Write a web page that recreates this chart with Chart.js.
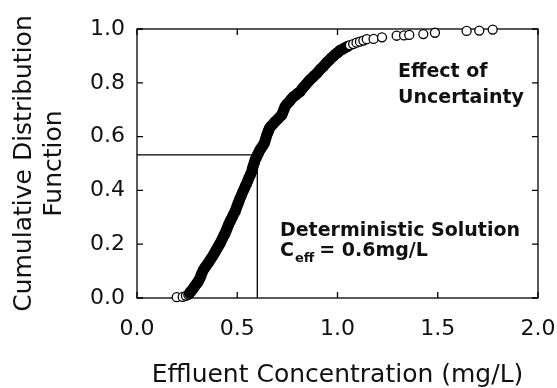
<!DOCTYPE html>
<html>
<head>
<meta charset="utf-8">
<script src="https://cdn.jsdelivr.net/npm/chart.js@4.4.1/dist/chart.umd.min.js"></script>
<style>
  html, body { margin: 0; padding: 0; background: #fff; }
  #cdfChart { display: block; }
</style>
</head>
<body>
<canvas id="cdfChart" width="557" height="388"></canvas>
<script>
// Monte Carlo results: effluent concentration (mg/L) vs cumulative probability
const effluentConc = [
  0.198, 0.228, 0.244, 0.256,
  0.262, 0.268, 0.275, 0.282, 0.289, 0.296, 0.302, 0.308, 0.314, 0.319, 0.324, 0.331,
  0.339, 0.347, 0.356, 0.364, 0.372, 0.381, 0.388, 0.395, 0.401, 0.408, 0.414,
  0.420, 0.427, 0.433, 0.439, 0.445, 0.451, 0.457, 0.464, 0.470, 0.476, 0.482, 0.489,
  0.494, 0.499, 0.504, 0.509, 0.514, 0.521, 0.527, 0.534, 0.540, 0.547,
  0.553, 0.559, 0.566, 0.572, 0.576, 0.580, 0.585, 0.589, 0.595, 0.601, 0.607, 0.613,
  0.620, 0.628, 0.635, 0.639, 0.643, 0.647, 0.652, 0.656, 0.660, 0.669, 0.679, 0.688,
  0.699, 0.711, 0.722, 0.727, 0.733, 0.738, 0.748, 0.759, 0.769, 0.780, 0.791, 0.802, 0.813,
  0.823, 0.833, 0.844, 0.854, 0.864, 0.875, 0.885, 0.896, 0.907, 0.918, 0.929, 0.940,
  0.950, 0.960, 0.970, 0.981, 0.991, 1.002, 1.012, 1.025, 1.037, 1.050, 1.062,
  1.078, 1.095, 1.112, 1.129, 1.146,
  1.180, 1.222, 1.295, 1.332, 1.358, 1.428, 1.486, 1.644, 1.707, 1.774
];
const cumProb = [
  0.003, 0.004, 0.008, 0.012,
  0.018, 0.024, 0.030, 0.037, 0.045, 0.052, 0.058, 0.065, 0.073, 0.083, 0.093, 0.104,
  0.113, 0.122, 0.131, 0.140, 0.150, 0.160, 0.169, 0.178, 0.186, 0.195, 0.203,
  0.212, 0.222, 0.231, 0.240, 0.251, 0.262, 0.273, 0.284, 0.293, 0.302, 0.311, 0.321,
  0.331, 0.341, 0.351, 0.361, 0.371, 0.382, 0.393, 0.404, 0.415, 0.426,
  0.437, 0.448, 0.459, 0.470, 0.481, 0.492, 0.502, 0.513, 0.522, 0.532, 0.541, 0.550,
  0.558, 0.567, 0.575, 0.585, 0.595, 0.605, 0.614, 0.622, 0.630, 0.639, 0.647, 0.655,
  0.663, 0.672, 0.680, 0.690, 0.701, 0.711, 0.721, 0.730, 0.739, 0.748, 0.754, 0.761, 0.767,
  0.777, 0.786, 0.795, 0.804, 0.812, 0.820, 0.827, 0.835, 0.844, 0.853, 0.861, 0.870,
  0.878, 0.885, 0.893, 0.900, 0.907, 0.913, 0.920, 0.925, 0.930, 0.935, 0.940,
  0.944, 0.949, 0.953, 0.957, 0.962,
  0.963, 0.969, 0.975, 0.976, 0.978, 0.981, 0.986, 0.993, 0.994, 0.998
];

// deterministic run
const detConc = 0.6;
const detProb = 0.532;

const xTicks = [0, 0.5, 1.0, 1.5, 2.0];
const yTicks = [0, 0.2, 0.4, 0.6, 0.8, 1.0];

const FONT = "'DejaVu Sans', sans-serif";

const points = effluentConc.map((c, i) => ({ x: c, y: cumProb[i] }));

// the bulk of the samples overlap into a solid band
const inBand = c => c.raw && c.raw.x > 0.26 && c.raw.x < 1.06;

// box around the plot with inward tick marks on all four sides
const framePlugin = {
  id: 'frame',
  beforeDatasetsDraw(chart) {
    const { ctx, chartArea: a, scales: { x, y } } = chart;
    ctx.save();
    ctx.strokeStyle = '#000';
    ctx.lineWidth = 1.3;
    ctx.strokeRect(a.left, a.top, a.right - a.left, a.bottom - a.top);
    ctx.beginPath();
    x.ticks.forEach(t => {
      const px = x.getPixelForValue(t.value);
      ctx.moveTo(px, a.bottom); ctx.lineTo(px, a.bottom - 6);
      ctx.moveTo(px, a.top); ctx.lineTo(px, a.top + 6);
    });
    y.ticks.forEach(t => {
      const py = y.getPixelForValue(t.value);
      ctx.moveTo(a.left, py); ctx.lineTo(a.left + 6, py);
      ctx.moveTo(a.right, py); ctx.lineTo(a.right - 6, py);
    });
    ctx.stroke();
    ctx.restore();
  }
};

// text notes inside the plot
const notesPlugin = {
  id: 'notes',
  afterDatasetsDraw(chart) {
    const { ctx, scales: { x, y } } = chart;
    ctx.save();
    ctx.fillStyle = '#111';
    ctx.textBaseline = 'alphabetic';
    ctx.textAlign = 'left';
    ctx.font = `bold 19px ${FONT}`;
    ctx.fillText('Effect of', x.getPixelForValue(1.302), y.getPixelForValue(0.82));
    ctx.fillText('Uncertainty', x.getPixelForValue(1.302), y.getPixelForValue(0.725));
    ctx.fillText('Deterministic Solution', x.getPixelForValue(0.713), y.getPixelForValue(0.23));

    let px = x.getPixelForValue(0.713);
    const base = y.getPixelForValue(0.156);
    ctx.fillText('C', px, base);
    px += ctx.measureText('C').width + 1;
    ctx.font = `bold 13px ${FONT}`;
    ctx.fillText('eff', px, base + 6);
    px += ctx.measureText('eff').width + 5;
    ctx.font = `bold 19px ${FONT}`;
    ctx.fillText('= 0.6mg/L', px, base);
    ctx.restore();
  }
};

new Chart(document.getElementById('cdfChart'), {
  type: 'scatter',
  data: {
    datasets: [
      {
        data: points,
        order: 0,
        clip: false,
        pointRadius: c => inBand(c) ? 5 : 4.5,
        pointHoverRadius: c => inBand(c) ? 5 : 4.5,
        pointBorderWidth: 1.3,
        pointBorderColor: '#000',
        pointBackgroundColor: c => inBand(c) ? '#000' : '#fff'
      },
      {
        type: 'line',
        data: [
          { x: 0, y: detProb },
          { x: detConc, y: detProb },
          { x: detConc, y: 0 }
        ],
        order: 1,
        borderColor: '#000',
        borderWidth: 1.3,
        pointRadius: 0,
        fill: false,
        tension: 0
      }
    ]
  },
  options: {
    responsive: false,
    animation: false,
    layout: { padding: { top: 29, right: 19, left: 0, bottom: 0 } },
    plugins: {
      legend: { display: false },
      tooltip: { enabled: false }
    },
    scales: {
      x: {
        type: 'linear',
        min: 0,
        max: 2,
        afterBuildTicks: s => { s.ticks = xTicks.map(v => ({ value: v })); },
        afterFit: s => { s.height = 90; s.paddingLeft = 0; s.paddingRight = 0; },
        grid: { display: false, drawTicks: false },
        border: { display: false },
        ticks: {
          color: '#111',
          padding: 18,
          font: { family: FONT, size: 22 },
          callback: v => v.toFixed(1)
        },
        title: {
          display: true,
          text: 'Effluent Concentration (mg/L)',
          color: '#111',
          font: { family: FONT, size: 25 },
          padding: { top: 0, bottom: -2 }
        }
      },
      y: {
        type: 'linear',
        min: 0,
        max: 1,
        afterBuildTicks: s => { s.ticks = yTicks.map(v => ({ value: v })); },
        afterFit: s => { s.width = 137; s.paddingTop = 0; s.paddingBottom = 0; },
        grid: { display: false, drawTicks: false },
        border: { display: false },
        ticks: {
          color: '#111',
          padding: 12,
          font: { family: FONT, size: 22 },
          callback: v => v.toFixed(1)
        },
        title: {
          display: true,
          text: ['Cumulative Distribution', 'Function'],
          color: '#111',
          font: { family: FONT, size: 25 },
          padding: { top: 9, bottom: 0 }
        }
      }
    }
  },
  plugins: [framePlugin, notesPlugin]
});
</script>
</body>
</html>
